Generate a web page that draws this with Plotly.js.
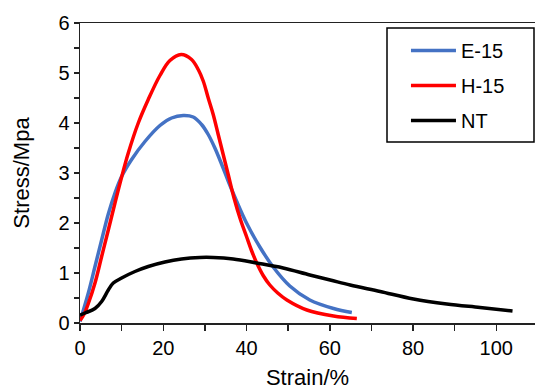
<!DOCTYPE html>
<html>
<head>
<meta charset="utf-8">
<script src="https://cdn.plot.ly/plotly-3.0.1.min.js"></script>
<style>html,body{margin:0;padding:0;background:#fff;}#chart{width:535px;height:392px;}</style>
</head>
<body>
<div id="chart"></div>
<script>
// E-15 (blue)
const strainE = [0, 2.0, 3.6, 5.2, 6.8, 8.4, 10, 12.4, 15.6, 19.2, 22, 24.8, 27.2, 29.2, 30.8, 32.4, 34, 35.6, 37.6, 40, 43.2, 46.4, 50.4, 55.2, 60.9, 65.3];
const stressE = [0.03, 0.6, 1.13, 1.66, 2.18, 2.6, 2.93, 3.27, 3.63, 3.95, 4.1, 4.15, 4.12, 3.97, 3.77, 3.5, 3.18, 2.84, 2.44, 2.0, 1.52, 1.12, 0.74, 0.46, 0.29, 0.21];
// H-15 (red)
const strainH = [0, 1, 2.0, 3.6, 5.2, 6.8, 8.4, 10, 11.6, 14, 16.4, 19.2, 21.6, 24.3, 26.8, 28.4, 29.6, 30.8, 32, 33.2, 34.4, 35.6, 37, 38.5, 40, 41.2, 42.4, 44, 45.6, 47.5, 49.7, 54.5, 60.9, 66.5];
const stressH = [0.05, 0.18, 0.39, 0.8, 1.33, 1.86, 2.4, 2.92, 3.4, 4.0, 4.47, 4.95, 5.25, 5.37, 5.27, 5.07, 4.84, 4.5, 4.17, 3.77, 3.37, 2.97, 2.5, 2.08, 1.73, 1.45, 1.21, 0.95, 0.76, 0.6, 0.46, 0.26, 0.14, 0.09];
// NT (black)
const strainNT = [0, 1.2, 3.6, 5.2, 6.8, 8.0, 10, 13.2, 16.4, 20.4, 24.4, 28.8, 32, 36.8, 42.4, 48.8, 55.2, 60.1, 64.9, 72.1, 80.1, 88.1, 96.1, 103.9];
const stressNT = [0.16, 0.2, 0.29, 0.43, 0.66, 0.8, 0.9, 1.03, 1.13, 1.22, 1.28, 1.31, 1.31, 1.28, 1.2, 1.1, 0.96, 0.86, 0.76, 0.63, 0.48, 0.38, 0.31, 0.24];

const seriesNames = ['E-15', 'H-15', 'NT'];
const xTitle = 'Strain/%';
const yTitle = 'Stress/Mpa';

const FONT = 'Liberation Sans, Arial, Helvetica, sans-serif';

const traces = [
  {x: strainE, y: stressE, name: seriesNames[0], legendgroup: 'a', mode: 'lines',
   line: {color: '#4472C4', width: 3.5, shape: 'spline', smoothing: 1}},
  {x: strainH, y: stressH, name: seriesNames[1], legendgroup: 'b', mode: 'lines',
   line: {color: '#FF0000', width: 3.5, shape: 'spline', smoothing: 1}},
  {x: strainNT, y: stressNT, name: seriesNames[2], legendgroup: 'c', mode: 'lines',
   line: {color: '#000000', width: 3.5, shape: 'spline', smoothing: 1}}
];

const layout = {
  width: 535, height: 392,
  margin: {l: 80, r: 0, t: 23, b: 69},
  paper_bgcolor: '#fff', plot_bgcolor: '#fff',
  font: {family: FONT, size: 20, color: '#000'},
  showlegend: true,
  legend: {x: 0.945, xanchor: 'right', y: 0.973, yanchor: 'top', itemwidth: 45,
    bgcolor: 'rgba(0,0,0,0)', borderwidth: 0, traceorder: 'grouped', tracegroupgap: 6,
    font: {family: FONT, size: 20, color: '#000'}},
  shapes: [
    {type: 'rect', xref: 'paper', yref: 'paper', x0: 307/455, x1: 454/455, y0: (323-142)/300, y1: (323-28)/300,
     line: {color: '#000', width: 1.5}, fillcolor: 'rgba(0,0,0,0)'}
  ],
  xaxis: {
    range: [0, 109.3], dtick: 20, tick0: 0,
    showgrid: false, zeroline: false,
    showline: true, linecolor: '#222', linewidth: 1.5, mirror: true,
    ticks: 'outside', ticklen: 6, tickwidth: 1.5, tickcolor: '#222',
    minor: {dtick: 10, ticks: 'outside', ticklen: 6, tickwidth: 1.5, tickcolor: '#222', showgrid: false},
    tickfont: {family: FONT, size: 20, color: '#000'},
    title: {text: xTitle, font: {family: FONT, size: 22, color: '#000'}, standoff: 12}
  },
  yaxis: {
    range: [0, 6], dtick: 1, tick0: 0,
    showgrid: false, zeroline: false,
    showline: true, linecolor: '#222', linewidth: 1.5, mirror: false,
    ticks: 'outside', ticklen: 5, tickwidth: 1.5, tickcolor: '#222',
    minor: {dtick: 0.5, ticks: 'outside', ticklen: 5, tickwidth: 1.5, tickcolor: '#222', showgrid: false},
    tickfont: {family: FONT, size: 20, color: '#000'},
    title: {text: yTitle, font: {family: FONT, size: 22, color: '#000'}, standoff: 22}
  }
};

Plotly.newPlot('chart', traces, layout, {displayModeBar: false, staticPlot: true});
</script>
</body>
</html>
